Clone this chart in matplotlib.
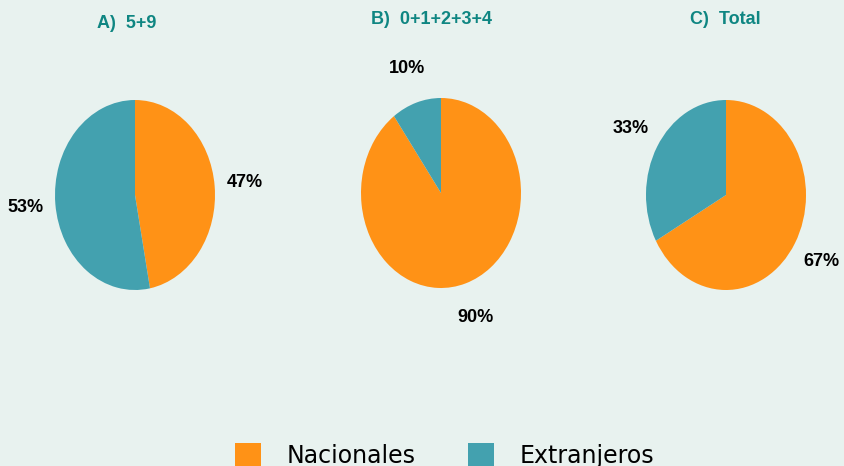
import matplotlib.pyplot as plt
from matplotlib.patches import Patch

# datos
categorias = ['Nacionales', 'Extranjeros']
titulos = ['A)  5+9', 'B)  0+1+2+3+4', 'C)  Total']
valores_a = [47, 53]
valores_b = [90, 10]
valores_c = [67, 33]
colores = ['#FF9216', '#43A1AF']
fondo = '#E8F2EF'
color_titulo = '#0F8682'
fuente = ['Liberation Sans Narrow', 'Liberation Sans', 'DejaVu Sans']

fig = plt.figure(figsize=(8.44, 4.66), dpi=100, facecolor=fondo)

W, H = 844, 466
centros = [(135, 195), (441, 193), (726, 195)]
pos_titulos = [(127, 23), (432, 20), (725, 20)]
series = [valores_a, valores_b, valores_c]

for (cx, cy), (tx, ty), vals, tit in zip(centros, pos_titulos, series, titulos):
    aw, ah = 240, 285
    ax = fig.add_axes([(cx - aw / 2) / W, 1 - (cy + ah / 2) / H, aw / W, ah / H])
    ax.set_facecolor(fondo)
    wedges, texts, autotexts = ax.pie(vals, colors=colores, startangle=90, counterclock=False,
                                      autopct=lambda p: '%d%%' % round(p), pctdistance=1.38,
                                      wedgeprops=dict(linewidth=0))
    for t in autotexts:
        t.set_fontfamily(fuente)
        t.set_fontweight('bold')
        t.set_fontsize(13)
        t.set_color('black')
    ax.set_aspect('auto')
    ax.set_xlim(-1.5, 1.5)
    ax.set_ylim(-1.5, 1.5)
    ax.axis('off')
    fig.text(tx / W, 1 - ty / H, tit, ha='center', va='center', family=fuente,
             fontweight='bold', fontsize=13, color=color_titulo)

handles = [Patch(facecolor=c, edgecolor='none') for c in colores]
fig.legend(handles, categorias, loc='upper center', bbox_to_anchor=(0.527, 1 - 422 / H),
           ncol=2, frameon=False, fontsize=17, handlelength=1.1, handleheight=1.1,
           handletextpad=1.1, columnspacing=2.2)

plt.savefig('out.png', dpi=100, facecolor=fondo)
